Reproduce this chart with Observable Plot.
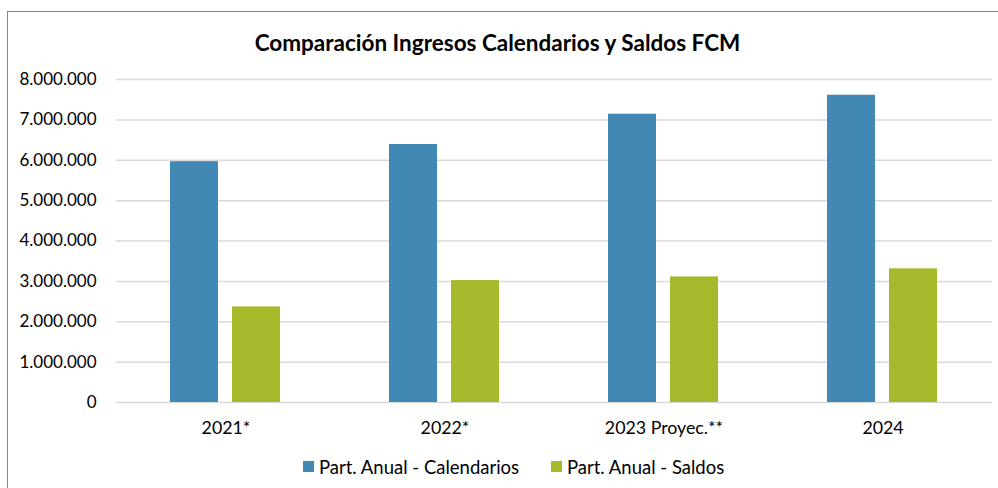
<!DOCTYPE html>
<html>
<head>
<meta charset="utf-8">
<script src="https://cdn.jsdelivr.net/npm/d3@7"></script>
<script src="https://cdn.jsdelivr.net/npm/@observablehq/plot@0.6"></script>
<style>
  html, body { margin: 0; padding: 0; background: #fff; }
  #wrap { position: relative; width: 998px; height: 488px; overflow: hidden; font-family: Lato, "Open Sans", sans-serif; }
  #frame { position: absolute; left: 7px; top: 11px; width: 1100px; height: 600px; border: 1.5px solid #8a8a8a; box-sizing: border-box; }
  #title { position: absolute; left: 0; top: 32px; width: 995px; text-align: center; font-size: 22.5px; line-height: 22.5px; font-weight: bold; color: #000; }
  #chart { position: absolute; left: 0; top: 0; }
  .item { position: absolute; top: 456px; height: 21px; display: flex; align-items: center; gap: 5px; font-size: 18.5px; color: #000; white-space: nowrap; }
  .sw { width: 11px; height: 11px; display: inline-block; }
</style>
</head>
<body>
<div id="wrap">
  <div id="frame"></div>
  <div id="chart"></div>
  <div id="title"></div>
  <div id="legend"></div>
</div>
<script>
const categories = ["2021*", "2022*", "2023 Proyec.**", "2024"];
const seriesNames = ["Part. Anual - Calendarios", "Part. Anual - Saldos"];
const calendarios = [5965000, 6390000, 7140000, 7610000];
const saldos = [2367000, 3020000, 3110000, 3310000];
const yTicks = [0, 1000000, 2000000, 3000000, 4000000, 5000000, 6000000, 7000000, 8000000];
const colors = ["#4189b4", "#a7b82a"];
const titleText = "Comparación Ingresos Calendarios y Saldos FCM";

const data = [];
categories.forEach((c, i) => {
  data.push({cat: c, series: seriesNames[0], value: calendarios[i]});
  data.push({cat: c, series: seriesNames[1], value: saldos[i]});
});

const loc = d3.formatLocale({decimal: ",", thousands: ".", grouping: [3], currency: ["", ""]});
const fmt = loc.format(",");

const chart = Plot.plot({
  width: 998,
  height: 488,
  marginLeft: 115,
  marginRight: 6,
  marginTop: 79,
  marginBottom: 86,
  style: {fontFamily: "Lato, 'Open Sans', sans-serif", fontSize: "17px", color: "#000", background: "transparent"},
  fx: {domain: categories, padding: 0, label: null},
  x: {domain: seriesNames, paddingInner: 0.222, paddingOuter: 0.851, axis: null},
  y: {domain: [0, 8000000], label: null},
  color: {domain: seriesNames, range: colors},
  marks: [
    Plot.gridY(yTicks, {stroke: "#d9d9d9", strokeOpacity: 1, strokeWidth: 1.5}),
    Plot.barY(data, {fx: "cat", x: "series", y: "value", fill: "series"}),
    Plot.axisY(yTicks, {tickSize: 0, tickPadding: 20, tickFormat: fmt, fontSize: 17}),
    Plot.axisFx({anchor: "bottom", tickSize: 0, tickPadding: 19, fontSize: 17.8, label: null})
  ]
});
document.getElementById("chart").appendChild(chart);
document.getElementById("title").textContent = titleText;

const legend = document.getElementById("legend");
const legendLeft = [303, 551];
seriesNames.forEach((s, i) => {
  const it = document.createElement("div");
  it.className = "item";
  it.style.left = legendLeft[i] + "px";
  const sw = document.createElement("span");
  sw.className = "sw";
  sw.style.background = colors[i];
  const tx = document.createElement("span");
  tx.textContent = s;
  it.appendChild(sw);
  it.appendChild(tx);
  legend.appendChild(it);
});
</script>
</body>
</html>
